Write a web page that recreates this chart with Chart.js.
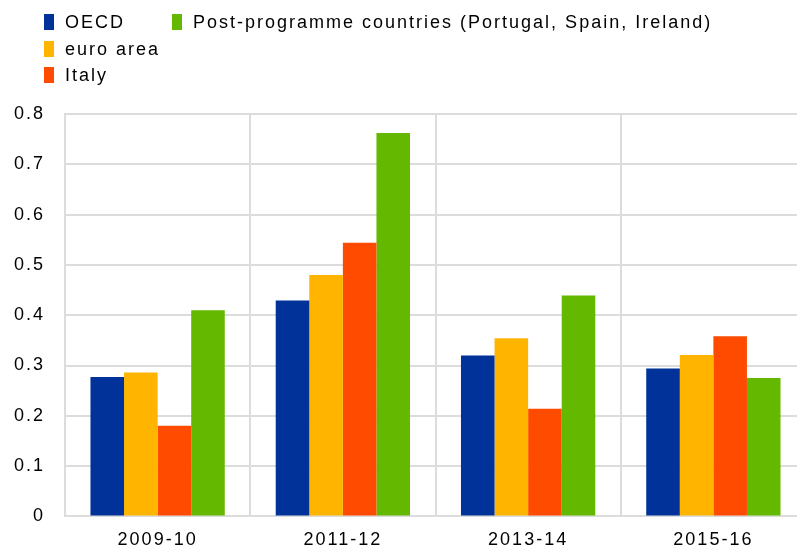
<!DOCTYPE html>
<html>
<head>
<meta charset="utf-8">
<script src="https://cdn.jsdelivr.net/npm/chart.js@4"></script>
<style>
html,body{margin:0;padding:0;background:#fff;overflow:hidden;width:797px;height:548px;}
#wrap{position:relative;width:806px;height:569px;}
canvas{position:absolute;left:0;top:0;}
.lg{position:absolute;font-family:"Liberation Sans",Arial,sans-serif;font-size:18px;letter-spacing:2px;color:#000;white-space:nowrap;line-height:18px;}
.sw{position:absolute;width:10px;height:16px;}
</style>
</head>
<body>
<div id="wrap"><canvas id="c" width="806" height="569"></canvas><div id="legend"></div></div>
<script>
const categories = ["2009-10", "2011-12", "2013-14", "2015-16"];
const seriesNames = ["OECD", "euro area", "Italy", "Post-programme countries (Portugal, Spain, Ireland)"];
const oecd = [0.277, 0.429, 0.320, 0.294];
const euroArea = [0.286, 0.480, 0.354, 0.321];
const italy = [0.180, 0.544, 0.214, 0.358];
const postProgramme = [0.410, 0.762, 0.439, 0.275];
const yTicks = [0, 0.1, 0.2, 0.3, 0.4, 0.5, 0.6, 0.7, 0.8];
const colors = ["#003299", "#FFB400", "#FF4B00", "#65B800"];
const values = [oecd, euroArea, italy, postProgramme];

// legend (column-major: 3 rows in first column)
const legendPos = [[44, 14], [44, 41], [44, 67], [172, 14]];
const lg = document.getElementById('legend');
seriesNames.forEach((n, i) => {
  const sw = document.createElement('div');
  sw.className = 'sw';
  sw.style.left = legendPos[i][0] + 'px';
  sw.style.top = legendPos[i][1] + 'px';
  sw.style.background = colors[i];
  lg.appendChild(sw);
  const t = document.createElement('div');
  t.className = 'lg';
  t.textContent = n;
  t.style.left = (legendPos[i][0] + 21) + 'px';
  t.style.top = (legendPos[i][1] - 1) + 'px';
  lg.appendChild(t);
});

const spacingPlugin = {
  id: 'spacing',
  beforeInit(chart) { chart.ctx.letterSpacing = '2px'; },
  beforeUpdate(chart) { chart.ctx.letterSpacing = '2px'; },
  beforeDraw(chart) { chart.ctx.letterSpacing = '2px'; }
};

const font = {family: '"Liberation Sans", Arial, sans-serif', size: 18};
new Chart(document.getElementById('c'), {
  type: 'bar',
  plugins: [spacingPlugin],
  data: {
    labels: categories,
    datasets: seriesNames.map((n, i) => ({
      label: n,
      data: values[i],
      backgroundColor: colors[i],
      borderWidth: 0,
      barPercentage: 1,
      categoryPercentage: 0.725
    }))
  },
  options: {
    responsive: false,
    animation: false,
    layout: {padding: {top: 114, left: 0, right: 0, bottom: 5}},
    plugins: {legend: {display: false}, tooltip: {enabled: false}},
    scales: {
      x: {
        grid: {color: '#dcdcdc', lineWidth: 2, drawTicks: false, offset: true},
        border: {color: '#dcdcdc', width: 2},
        ticks: {color: '#000', font: font, padding: 13, maxRotation: 0}
      },
      y: {
        min: 0, max: 0.8,
        afterFit: s => { s.width = 65; },
        afterBuildTicks: s => { s.ticks = yTicks.map(v => ({value: v})); },
        grid: {color: '#dcdcdc', lineWidth: 2, drawTicks: false},
        border: {color: '#dcdcdc', width: 2},
        ticks: {color: '#000', font: font, padding: 20, callback: v => String(v)}
      }
    }
  }
});
</script>
</body>
</html>
